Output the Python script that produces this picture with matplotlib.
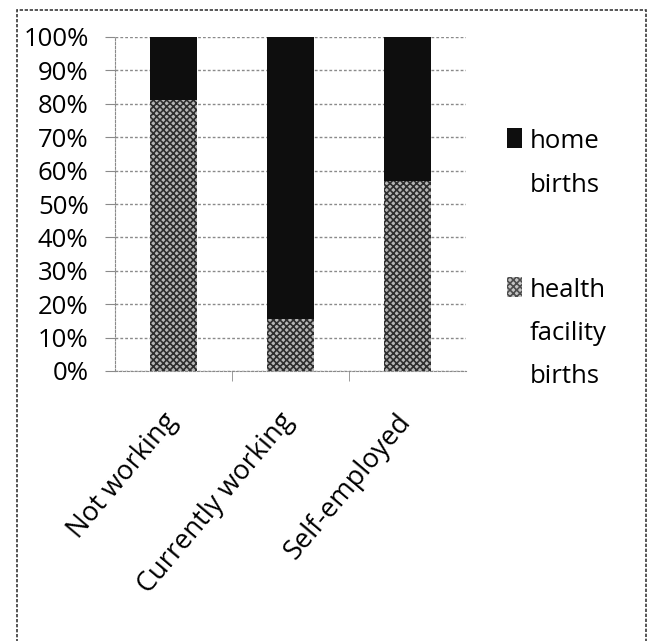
import matplotlib
matplotlib.use('Agg')
import matplotlib.pyplot as plt
from matplotlib.patches import Rectangle
from matplotlib.ticker import FixedLocator
from matplotlib.transforms import ScaledTranslation
import numpy as np

# Udział porodów wg statusu zatrudnienia matki (w %)
categories = ['Not working', 'Currently working', 'Self-employed']
health_facility_births = [81, 15.5, 57]
home_births = [19, 84.5, 43]
y_ticks = list(range(0, 101, 10))

plt.rcParams['font.family'] = ['Open Sans', 'DejaVu Sans']
plt.rcParams['hatch.linewidth'] = 1.2

fig = plt.figure(figsize=(6.53, 6.41), dpi=100)
ax = fig.add_axes([115 / 653, 270 / 641, 351 / 653, 334 / 641])

x = np.arange(len(categories))
ax.bar(x, health_facility_births, width=0.4, color='#b5b5b5', edgecolor='#2e2e2e',
       hatch='xxxxx', linewidth=0, zorder=3)
ax.bar(x, home_births, width=0.4, bottom=health_facility_births, color='#0e0e0e',
       linewidth=0, zorder=3)

ax.set_xlim(-0.5, 2.5)
ax.set_ylim(0, 100)
ax.set_yticks(y_ticks)
ax.set_yticklabels([f'{v}%' for v in y_ticks], fontsize=18.5)
ax.grid(axis='y', linestyle=(0, (2, 1.5)), color='#8a8a8a', linewidth=1, zorder=0)

# etykiety kategorii ukośnie pod osią
ax.set_xticks(x)
ax.set_xticklabels(categories, fontsize=19.5, rotation=50, ha='right',
                   rotation_mode='anchor')
ax.tick_params(axis='x', which='major', length=0, pad=0)
shift = ScaledTranslation(-12 / 100, -37 / 100, fig.dpi_scale_trans)
for lbl in ax.get_xticklabels():
    lbl.set_transform(lbl.get_transform() + shift)
ax.xaxis.set_minor_locator(FixedLocator([0.5, 1.5]))
ax.tick_params(axis='x', which='minor', length=7, color='#8a8a8a')
ax.tick_params(axis='y', length=7, color='#8a8a8a', pad=12)

for side in ['top', 'right']:
    ax.spines[side].set_visible(False)
for side in ['left', 'bottom']:
    ax.spines[side].set_color('#8a8a8a')
    ax.spines[side].set_linestyle((0, (2, 1.5)))

# legenda po prawej stronie, kwadrat przy pierwszej linii
def legend_entry(baselines, lines, face, hatch=None):
    y0 = baselines[0]
    sq = Rectangle((507 / 653, 1 - y0 / 641), 15 / 653, 20 / 641,
                   transform=fig.transFigure, facecolor=face,
                   edgecolor='#4d4d4d' if hatch else face, hatch=hatch, linewidth=0)
    fig.patches.append(sq)
    for yb, line in zip(baselines, lines):
        fig.text(530 / 653, 1 - yb / 641, line, fontsize=18.5,
                 va='baseline', ha='left')

legend_entry([148, 192], ['home', 'births'], '#0e0e0e')
legend_entry([297, 340, 383], ['health', 'facility', 'births'], '#c4c4c4', hatch='xxxxx')

# ramka wokół wykresu
frame = Rectangle((17 / 653, -0.05), 629 / 653, 1.05 - 10 / 641,
                  transform=fig.transFigure, fill=False, edgecolor='#3a3a3a',
                  linewidth=1.2, linestyle=(0, (2, 1)))
fig.patches.append(frame)

fig.savefig('out.png', dpi=100)
plt.close(fig)
